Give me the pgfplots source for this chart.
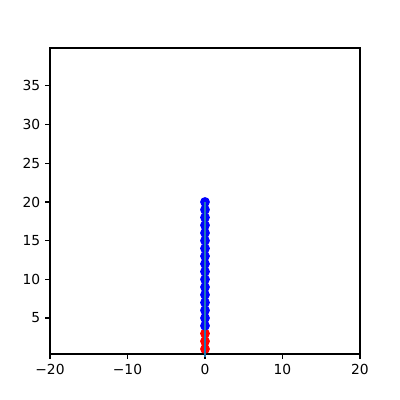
\documentclass[border=0pt]{standalone}
\usepackage{pgfplots}
\pgfplotsset{compat=1.18}
\usepackage{fontspec}
\setmainfont{DejaVu Sans}
\definecolor{mplblue}{HTML}{1F77B4}
\begin{document}
\begin{tikzpicture}
\pgfplotsset{set layers}
\begin{axis}[
  at={(0,0)}, anchor=south west,
  scale only axis,
  width=223.2bp, height=220.3bp,
  xmin=-20, xmax=20, ymin=0.35, ymax=39.9,
  xtick={-20,-10,0,10,20},
  xticklabels={−20,−10,0,10,20},
  ytick={5,10,15,20,25,30,35},
  tick align=outside,
  tick pos=left,
  major tick length=3.5bp,
  axis line style={line width=0.8bp},
  every tick/.style={black, line width=0.8bp},
  tick label style={font=\fontsize{10}{12}\selectfont},
  /pgf/number format/assume math mode=true,
  clip=true,
]
\addplot[only marks, mark=*, mark size=3bp, mark options={line width=1bp}, draw=red, fill=red] coordinates {(0,1) (0,2) (0,3)};
\addplot[only marks, mark=*, mark size=3bp, mark options={line width=1bp}, draw=blue, fill=blue] coordinates {
(0,4) (0,5) (0,6) (0,7) (0,8) (0,9) (0,10) (0,11) (0,12) (0,13) (0,14) (0,15) (0,16) (0,17) (0,18) (0,19) (0,20)};
\addplot[mplblue, line width=1.5bp, no marks, on layer=axis foreground] coordinates {(0,0) (0,20)};
\end{axis}
\path[use as bounding box] (-36bp,-33.12bp) rectangle (252bp,254.88bp);
\end{tikzpicture}
\end{document}
